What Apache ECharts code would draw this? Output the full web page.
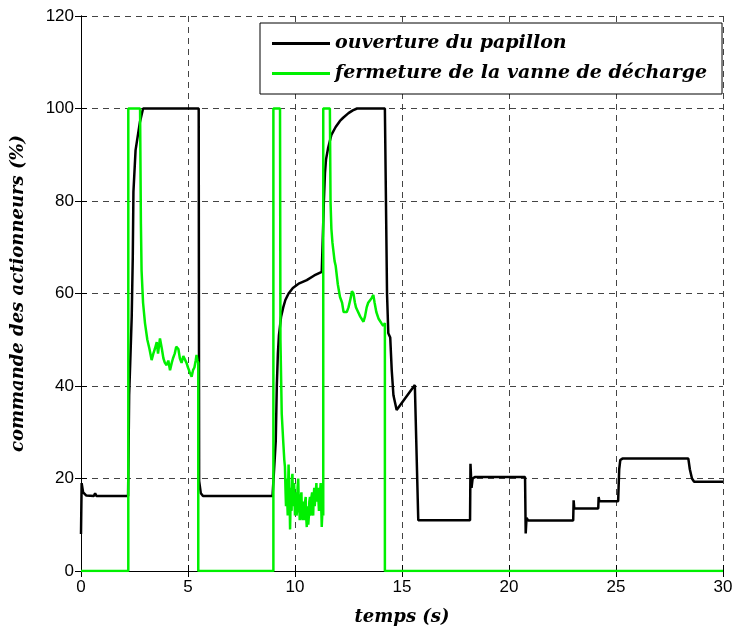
<!DOCTYPE html>
<html><head><meta charset="utf-8">
<script src="https://cdn.jsdelivr.net/npm/echarts@6/dist/echarts.min.js"></script>
<style>html,body{margin:0;padding:0;background:#fff}#c{width:736px;height:632px}</style>
</head><body><div id="c"></div>
<script>
const seriesNames = ['ouverture du papillon', 'fermeture de la vanne de décharge'];
const xTicks = [0, 5, 10, 15, 20, 25, 30];
const yTicks = [0, 20, 40, 60, 80, 100, 120];

// ouverture du papillon (black)
const papT = [0,0.03,0.1,0.25,0.6,0.66,0.72,2.2,2.25,2.3,2.37,2.42,2.45,2.55,2.75,2.9,5.5,5.52,5.6,5.7,8.95,9.1,9.15,9.2,9.25,9.35,9.45,9.55,9.7,9.9,10.2,10.55,10.9,11.25,11.3,11.35,11.4,11.45,11.55,11.7,11.9,12.1,12.25,12.5,12.7,12.9,14.2,14.3,14.36,14.45,14.52,14.6,14.75,15.6,15.65,15.76,18.18,18.2,18.25,18.3,18.4,20.75,20.78,20.82,20.9,23.0,23.02,23.05,24.17,24.19,24.22,25.1,25.15,25.2,25.3,28.38,28.45,28.55,28.65,30];
const papV = [8,19,17,16.3,16.2,16.8,16.2,16.2,38,45,55,68,82,91,97,100,100,19.5,16.8,16.2,16.2,28,40,47,51,55,57,58.6,60,61.2,62.2,62.9,63.9,64.7,65,80,86,89,91.5,94.3,96,97.3,98,99,99.6,100,100,60,51.4,50.5,43.4,38,34.8,40.2,40,11,11,23.2,18,20,20.3,20.3,8.1,11.5,10.9,10.9,15.3,13.5,13.5,16,15.1,15.1,22,24,24.3,24.3,22,20,19.3,19.3];

// fermeture de la vanne de décharge (green)
const vanT = [0,2.21,2.21,2.76,2.8,2.83,2.9,2.99,3.1,3.2,3.3,3.38,3.45,3.54,3.6,3.69,3.78,3.85,3.92,4.0,4.08,4.16,4.24,4.3,4.38,4.45,4.55,4.62,4.7,4.78,4.86,4.93,5.0,5.08,5.17,5.24,5.3,5.36,5.4,5.44,5.48,5.48,8.99,8.99,9.3,9.32,9.38,9.45,9.5,9.53,9.56,9.58,9.6,9.62,9.64,9.66,9.68,9.7,9.72,9.74,9.76,9.77,9.79,9.8,9.82,9.84,9.86,9.88,9.9,9.92,9.94,9.96,9.98,10.0,10.02,10.05,10.07,10.1,10.12,10.15,10.17,10.2,10.22,10.25,10.27,10.3,10.32,10.35,10.37,10.4,10.42,10.45,10.47,10.5,10.52,10.55,10.57,10.6,10.62,10.65,10.67,10.7,10.72,10.75,10.77,10.8,10.82,10.85,10.87,10.9,10.92,10.95,10.97,11.0,11.02,11.05,11.07,11.1,11.12,11.15,11.17,11.2,11.22,11.25,11.28,11.32,11.32,11.63,11.66,11.7,11.75,11.79,11.85,11.9,12.0,12.1,12.2,12.27,12.34,12.42,12.5,12.6,12.66,12.73,12.8,12.85,12.9,12.96,13.05,13.1,13.2,13.27,13.35,13.42,13.5,13.58,13.66,13.72,13.8,13.9,13.98,14.05,14.12,14.2,14.2,30];
const vanV = [0,0,100,100,75,65,58,53.6,50,48,45.6,47,48,49.5,47,50.3,48,46,45,44.5,45.5,43.4,45,46,47,48.5,48,46,45,46.5,46.3,45,44,43,42,43.5,44,45.5,46.7,45.5,45,0,0,100,100,50,34,28,24,22.5,17,14,19,20,15,12,18,23,19,15,12,9,14,18,15,13,20,21,16,14,18,19,15,12,16,17,12,13,18,20,16,15,11,12,16,17,13,11,14,15,11,13,15,16,12,9.5,13,14,10,12,15,16,12,13,16,17,13,12,16,18,14,14,17,19,15,15,18,18,13,14,17,19,15,9.5,13,12,100,100,80,74,71,69.4,67,66,62,59.3,58,56,55.7,56,57,59,60.5,60,58,57,56.5,56.4,55,55,53.9,55,57,58,58.5,59,59.7,58,56,54.6,55,53.5,53,53.6,0,0];

const pap = papT.map((t, i) => [t, papV[i]]);
const van = vanT.map((t, i) => [t, vanV[i]]);

const serifBI = {fontFamily: 'DejaVu Serif', fontWeight: 'bold', fontStyle: 'italic', fontSize: 18, color: '#000'};
const legendBI = Object.assign({}, serifBI, {fontSize: 19});
const gridLine = {show: true, lineStyle: {color: '#444', type: [6, 5], width: 1}};

const chart = echarts.init(document.getElementById('c'), null, {renderer: 'canvas'});
chart.setOption({
  animation: false,
  backgroundColor: '#fff',
  grid: {left: 81, right: 13, top: 16, bottom: 61},
  legend: {
    orient: 'vertical', left: 260, top: 23,
    padding: [11, 15, 11, 12], itemGap: 11, itemWidth: 58, itemHeight: 3,
    borderColor: '#000', borderWidth: 1, backgroundColor: '#fff',
    textStyle: legendBI,
    data: [{name: seriesNames[0], icon: 'rect'}, {name: seriesNames[1], icon: 'rect'}]
  },
  xAxis: [{
    type: 'value', min: 0, max: 30, interval: 5,
    name: 'temps (s)', nameLocation: 'middle', nameGap: 37, nameTextStyle: serifBI,
    axisLine: {show: true, lineStyle: {color: '#000', width: 1}},
    axisTick: {show: true, inside: true, length: 6, lineStyle: {color: '#000'}},
    axisLabel: {fontFamily: 'Liberation Sans', fontSize: 17, color: '#000', margin: 8},
    splitLine: gridLine
  }, {
    type: 'value', min: 0, max: 30, interval: 5, position: 'top',
    axisLine: {show: true, lineStyle: {color: '#000', width: 1}},
    axisTick: {show: true, inside: true, length: 6, lineStyle: {color: '#000'}},
    axisLabel: {show: false}, splitLine: {show: false}
  }],
  yAxis: [{
    type: 'value', min: 0, max: 120, interval: 20,
    name: 'commande des actionneurs (%)', nameLocation: 'middle', nameGap: 54, nameRotate: 90, nameTextStyle: serifBI,
    axisLine: {show: true, lineStyle: {color: '#000', width: 1}},
    axisTick: {show: true, inside: true, length: 6, lineStyle: {color: '#000'}},
    axisLabel: {fontFamily: 'Liberation Sans', fontSize: 17, color: '#000', margin: 7},
    splitLine: gridLine
  }, {
    type: 'value', min: 0, max: 120, interval: 20, position: 'right',
    axisLine: {show: true, lineStyle: {color: '#000', width: 1}},
    axisTick: {show: true, inside: true, length: 6, lineStyle: {color: '#000'}},
    axisLabel: {show: false}, splitLine: {show: false}
  }],
  series: [
    {name: seriesNames[0], type: 'line', data: pap, symbol: 'none', color: '#000',
     lineStyle: {color: '#000', width: 2.5}, z: 3},
    {name: seriesNames[1], type: 'line', data: van, symbol: 'none', color: '#00f000',
     lineStyle: {color: '#00f000', width: 2.5}, z: 4}
  ]
});
</script></body></html>
